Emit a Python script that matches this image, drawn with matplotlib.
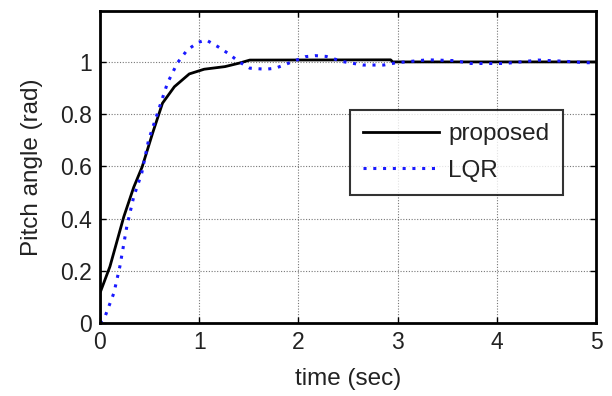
import matplotlib

matplotlib.use("Agg")
import matplotlib.pyplot as plt

plt.rcParams["font.family"] = ["Liberation Sans", "DejaVu Sans"]

# step response, proposed controller
t_prop = [0.0, 0.0, 0.10, 0.24, 0.34, 0.425, 0.53, 0.63, 0.75, 0.90, 1.05, 1.26,
          1.40, 1.51, 2.93, 2.95, 5.0]
y_prop = [0.0, 0.115, 0.216, 0.407, 0.52, 0.598, 0.727, 0.842, 0.905, 0.954, 0.972,
          0.982, 0.995, 1.007, 1.008, 1.0, 1.0]

# step response, LQR
t_lqr = [0.0, 0.05, 0.14, 0.20, 0.27, 0.34, 0.42, 0.49, 0.58, 0.68, 0.78, 0.88, 0.99,
         1.07, 1.19, 1.29, 1.40, 1.51, 1.67, 1.77, 1.90, 2.07, 2.17, 2.28, 2.45, 2.65,
         2.86, 2.99, 3.30, 3.57, 3.74, 4.08, 4.42, 4.66, 4.90, 5.0]
y_lqr = [0.0, 0.024, 0.115, 0.216, 0.369, 0.484, 0.573, 0.701, 0.804, 0.919, 0.996,
         1.046, 1.075, 1.084, 1.058, 1.033, 1.001, 0.976, 0.972, 0.976, 0.995, 1.020,
         1.024, 1.021, 1.001, 0.988, 0.988, 0.997, 1.008, 1.005, 0.994, 0.994, 1.007,
         1.003, 0.997, 0.997]

x_ticks = [0, 1, 2, 3, 4, 5]
y_ticks = [0, 0.2, 0.4, 0.6, 0.8, 1.0]
y_tick_labels = ["0", "0.2", "0.4", "0.6", "0.8", "1"]

TXT = "#222222"

fig = plt.figure(figsize=(6.12, 3.96), dpi=100)
ax = fig.add_axes([100 / 612, 1 - 323 / 396, 496 / 612, 312 / 396])

ax.plot(t_prop, y_prop, color="black", linewidth=2.0, label="proposed")
ax.plot(t_lqr, y_lqr, color="#1a1aff", linewidth=2.2, linestyle=(0, (1, 2.2)),
        label="LQR")

ax.set_xlim(0, 5)
ax.set_ylim(0, 1.195)
ax.set_xticks(x_ticks)
ax.set_yticks(y_ticks)
ax.set_yticklabels(y_tick_labels)
ax.tick_params(direction="in", length=4, width=1, labelsize=16.5, labelcolor=TXT,
               top=True, right=True, pad=6)
ax.grid(True, color="#555555", linestyle=(0, (1, 1.5)), linewidth=0.8, alpha=0.8)
for sp in ax.spines.values():
    sp.set_linewidth(2.0)

ax.set_xlabel("time (sec)", fontsize=17.5, color=TXT, labelpad=10)
ax.set_ylabel("Pitch angle (rad)", fontsize=17.5, color=TXT, labelpad=12)

leg = ax.legend(loc="upper left", bbox_to_anchor=(0.504, 0.683), fontsize=17.5,
                frameon=True, fancybox=False, handlelength=3.1, borderpad=0.55,
                labelspacing=0.6, handletextpad=0.4, borderaxespad=0)
leg.get_frame().set_edgecolor("black")
leg.get_frame().set_linewidth(1.5)
for txt in leg.get_texts():
    txt.set_color(TXT)

fig.savefig("out.png", dpi=100, facecolor="white")
